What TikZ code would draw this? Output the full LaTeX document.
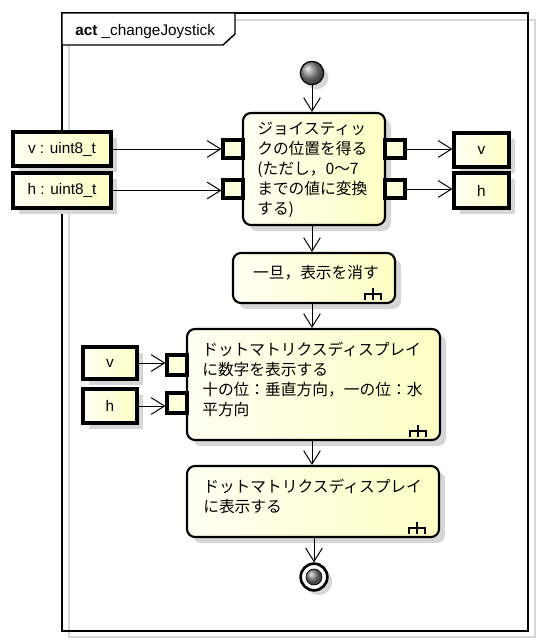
\documentclass[tikz,border=0pt]{standalone}
\usepackage{fontspec}
\setmainfont{Liberation Sans}
\newfontfamily\jp{Noto Sans CJK JP}
\usetikzlibrary{arrows.meta,shadows,fit}
\definecolor{yA}{HTML}{FFFFF4}
\definecolor{yB}{HTML}{FFFFC4}
\definecolor{pinfill}{HTML}{FFFFDC}
\definecolor{shd}{HTML}{D6D6D6}
\tikzset{
  frameline/.style={draw=black, line width=1.1pt},
  myshadow/.style={drop shadow={shadow xshift=4.5pt, shadow yshift=-4.5pt, fill=shd, opacity=1}},
  actbox/.style={draw=black, line width=1.6pt, rounded corners=6pt, left color=yA, right color=yB, inner sep=0pt, myshadow},
  objbox/.style={draw=black, line width=2.3pt, left color=yA, right color=yB, inner sep=0pt, myshadow, font=\fontsize{11.5}{13}\selectfont},
  pinbox/.style={draw=black, line width=2.3pt, fill=pinfill, inner sep=0pt},
  jptext/.style={font=\jp\fontsize{11.8}{15}\selectfont, align=left, inner sep=0pt},
  flow/.style={draw=black, line width=0.75pt, -{Straight Barb[length=10pt,width=12.5pt,line width=0.75pt]}},
  rake/.pic={\draw[line width=2pt] (-8,6) -- (-8,0) -- (8,0) -- (8,6) (0,0) -- (0,6) (0,0) -- (0,-6);}
}
\begin{document}
\begin{tikzpicture}[x=0.75pt,y=-0.75pt]
\useasboundingbox (0,0) rectangle (542,644);
% frame
\draw[shd, line width=1.1pt] (69,20) rectangle (535,637);
\draw[frameline] (62,13) rectangle (528,631);
\draw[frameline, fill=white] (62,13) -- (235,13) -- (235,34) -- (223,45) -- (62,45) -- cycle;
\node[anchor=base west, inner sep=0pt, font=\fontsize{11.5}{13}\selectfont] (title) at (75,35) {\textbf{act} \_changeJoystick};

% initial
\node[circle, draw=black, line width=0.9pt, minimum size=17.5pt, inner sep=0pt, shading=ball, ball color=black!45, drop shadow={shadow xshift=3.5pt, shadow yshift=-3.5pt, fill=shd, opacity=1}] (init) at (312,73) {};

% action 1
\node[actbox, fit={(243,113) (385,225)}] (a1) {};
\node[jptext, anchor=west] (a1t) at (257,170) {ジョイスティッ\\クの位置を得る\\(ただし，0〜7\\までの値に変換\\する)};
\node[pinbox, fit={(223,140) (243,158)}] (pl1) {};
\node[pinbox, fit={(223,180) (243,198)}] (pl2) {};
\node[pinbox, fit={(385,140) (405,158)}] (pr1) {};
\node[pinbox, fit={(385,180) (405,198)}] (pr2) {};

% objects around action 1
\node[objbox, fit={(13,132) (111,166)}] (vin) {};
\node[font=\fontsize{11.5}{13}\selectfont] (vint) at (vin.center) {v : uint8\_t};
\node[objbox, fit={(13,173) (111,208)}] (hin) {};
\node[font=\fontsize{11.5}{13}\selectfont] (hint) at (hin.center) {h : uint8\_t};
\node[objbox, fit={(454,133) (509,167)}] (vout) {};
\node[font=\fontsize{11.5}{13}\selectfont] (voutt) at (vout.center) {v};
\node[objbox, fit={(454,173) (509,208)}] (hout) {};
\node[font=\fontsize{11.5}{13}\selectfont] (houtt) at (hout.center) {h};

% action 2
\node[actbox, fit={(233,253) (395,303)}] (a2) {};
\node[jptext] (a2t) at (316,273) {一旦，表示を消す};
\pic at ([shift={(-23,-10)}]a2.south east) {rake};

% action 3
\node[actbox, fit={(187,329) (440,440)}] (a3) {};
\node[jptext, anchor=west] (a3t) at (202,379) {ドットマトリクスディスプレイ\\に数字を表示する\\十の位：垂直方向，一の位：水\\平方向};
\pic at ([shift={(-23,-10)}]a3.south east) {rake};
\node[pinbox, fit={(167,355) (187,375)}] (p3a) {};
\node[pinbox, fit={(167,393) (187,413)}] (p3b) {};
\node[objbox, fit={(83,347) (137,379)}] (va3) {};
\node[font=\fontsize{11.5}{13}\selectfont] (va3t) at (va3.center) {v};
\node[objbox, fit={(83,389) (137,423)}] (ha3) {};
\node[font=\fontsize{11.5}{13}\selectfont] (ha3t) at (ha3.center) {h};

% action 4
\node[actbox, fit={(187,466) (439,537)}] (a4) {};
\node[jptext, anchor=west] (a4t) at (203,496) {ドットマトリクスディスプレイ\\に表示する};
\pic at ([shift={(-23,-10)}]a4.south east) {rake};

% final
\node[circle, draw=black, line width=2pt, fill=white, minimum size=20pt, inner sep=0pt, drop shadow={shadow xshift=3.5pt, shadow yshift=-3.5pt, fill=shd, opacity=1}] (fin) at (314,577) {};
\node[circle, draw=black, line width=0.5pt, minimum size=12pt, inner sep=0pt, shading=ball, ball color=black!50] (finin) at (fin.center) {};

% control flows
\draw[flow] (init) -- (init |- a1.north);
\draw[flow] (a1.south -| init) -- (init |- a2.north);
\draw[flow] (a2.south -| init) -- (init |- a3.north);
\draw[flow] (a3.south -| init) -- (init |- a4.north);
\draw[flow] (a4.south -| fin) -- (fin);

% object flows
\draw[flow] (vin.east) -- (vin.east -| pl1.west);
\draw[flow] (hin.east) -- (hin.east -| pl2.west);
\draw[flow] (pr1.east) -- (pr1.east -| vout.west);
\draw[flow] (pr2.east) -- (pr2.east -| hout.west);
\draw[flow] (va3.east) -- (va3.east -| p3a.west);
\draw[flow] (ha3.east) -- (ha3.east -| p3b.west);
\end{tikzpicture}
\end{document}
